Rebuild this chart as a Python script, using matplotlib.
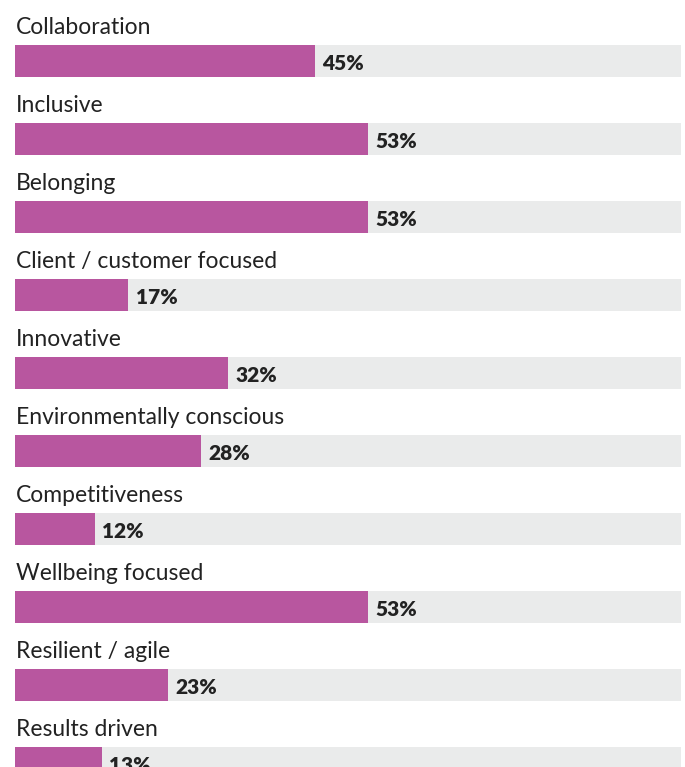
import matplotlib.pyplot as plt

categories = ['Collaboration', 'Inclusive', 'Belonging', 'Client / customer focused',
              'Innovative', 'Environmentally conscious', 'Competitiveness',
              'Wellbeing focused', 'Resilient / agile', 'Results driven']
values = [45, 53, 53, 17, 32, 28, 12, 53, 23, 13]

purple = '#B8569F'
grey = '#EAEBEB'
text_col = '#222222'

plt.rcParams['font.family'] = ['Lato', 'DejaVu Sans']

fig = plt.figure(figsize=(6.85, 7.67), dpi=100)
ax = fig.add_axes([0, 0, 1, 1])

rows = list(range(len(categories)))
ax.barh(rows, [100] * len(rows), height=0.41, color=grey, left=0)
ax.barh(rows, values, height=0.41, color=purple, left=0)

for i, (cat, v) in enumerate(zip(categories, values)):
    ax.text(0.1, i - 0.43, cat, fontsize=16.5, color=text_col, va='center', ha='left')
    ax.text(v + 1.1, i + 0.035, f'{v}%', fontsize=15, fontweight='heavy',
            color=text_col, va='center', ha='left')

ax.set_xlim(-15 / 6.66, 670 / 6.66)
ax.set_ylim(706 / 78, -61 / 78)
ax.axis('off')

fig.savefig('out.png', dpi=100)
